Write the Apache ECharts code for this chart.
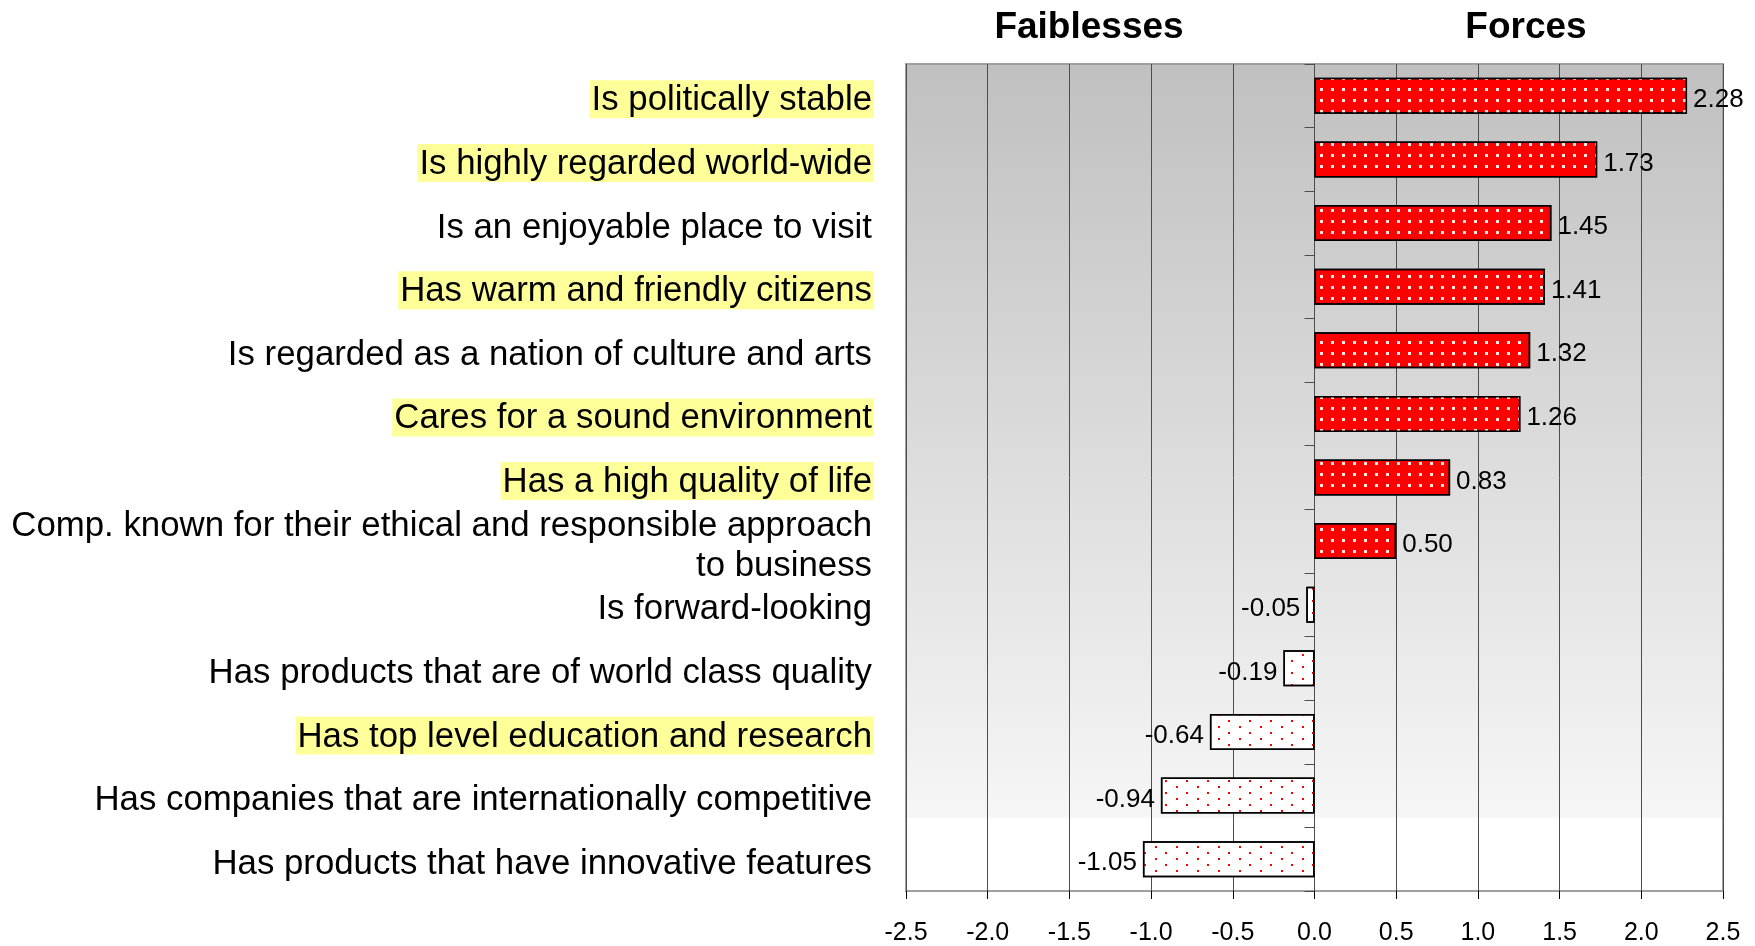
<!DOCTYPE html>
<html>
<head>
<meta charset="utf-8">
<script src="https://cdn.jsdelivr.net/npm/echarts@6/dist/echarts.min.js"></script>
<style>
  html, body { margin: 0; padding: 0; background: #fff; }
  #chart { width: 1755px; height: 946px; }
</style>
</head>
<body>
<div id="chart"></div>
<script>
// 数据
const categories = [
  "Is politically stable",
  "Is highly regarded world-wide",
  "Is an enjoyable place to visit",
  "Has warm and friendly citizens",
  "Is regarded as a nation of culture and arts",
  "Cares for a sound environment",
  "Has a high quality of life",
  "Comp. known for their ethical and responsible approach\nto business",
  "Is forward-looking",
  "Has products that are of world class quality",
  "Has top level education and research",
  "Has companies that are internationally competitive",
  "Has products that have innovative features",
];
const values = [2.28, 1.73, 1.45, 1.41, 1.32, 1.26, 0.83, 0.5, -0.05, -0.19, -0.64, -0.94, -1.05];
// 黄色高亮的标签
const highlighted = [
  "Is politically stable",
  "Is highly regarded world-wide",
  "Has warm and friendly citizens",
  "Cares for a sound environment",
  "Has a high quality of life",
  "Has top level education and research",
];
const xTicks = [-2.5, -2.0, -1.5, -1.0, -0.5, 0.0, 0.5, 1.0, 1.5, 2.0, 2.5];
const titles = ["Faiblesses", "Forces"];

const font = "Liberation Sans, Arial, sans-serif";
const chart = echarts.init(document.getElementById("chart"));

// 正值：红底白点；负值：白底红点
const posStyle = {
  color: "#ff0000",
  borderColor: "#000",
  borderWidth: 1.5,
  decal: {
    symbol: "rect",
    symbolSize: 1,
    color: "rgba(255,240,240,0.95)",
    dashArrayX: [2.5, 7.5],
    dashArrayY: [2.5, 7.5],
  },
};
const negStyle = {
  color: "#ffffff",
  borderColor: "#000",
  borderWidth: 1.5,
  decal: {
    symbol: "rect",
    symbolSize: 1,
    color: "#ff0000",
    dashArrayX: [[2, 19], [0, 10, 2, 9]],
    dashArrayY: [2, 3.5],
  },
};

const barData = values.map((v) => {
  return {
    value: v,
    itemStyle: v >= 0 ? posStyle : negStyle,
    label: { position: v >= 0 ? "right" : "left" },
  };
});

const labelFormatter = (name) => {
  const key = highlighted.indexOf(name) >= 0 ? "hl" : "n";
  return name
    .split("\n")
    .map((line) => "{" + key + "|" + line + "}")
    .join("\n");
};

const option = {
  animation: false,
  title: [
    {
      text: titles[0],
      left: 1084,
      top: 4,
      textAlign: "center",
      textStyle: { fontFamily: font, fontSize: 37, fontWeight: "bold", color: "#000" },
    },
    {
      text: titles[1],
      left: 1521,
      top: 4,
      textAlign: "center",
      textStyle: { fontFamily: font, fontSize: 37, fontWeight: "bold", color: "#000" },
    },
  ],
  grid: {
    left: 906,
    right: 32,
    top: 64,
    bottom: 54,
    show: true,
    borderColor: "#a0a0a0",
    borderWidth: 2,
    backgroundColor: new echarts.graphic.LinearGradient(0, 0, 0, 1, [
      { offset: 0, color: "#c0c0c0" },
      { offset: 0.91, color: "#f6f6f6" },
      { offset: 0.912, color: "#ffffff" },
      { offset: 1, color: "#ffffff" },
    ]),
  },
  xAxis: {
    type: "value",
    min: xTicks[0],
    max: xTicks[xTicks.length - 1],
    interval: 0.5,
    position: "bottom",
    axisLine: { onZero: false, lineStyle: { color: "#000", width: 2 } },
    axisTick: { show: true, length: 8, lineStyle: { color: "#000", width: 1 } },
    axisLabel: {
      margin: 30,
      fontFamily: font,
      fontSize: 25,
      color: "#000",
      formatter: (v) => v.toFixed(1),
    },
    splitLine: { show: true, lineStyle: { color: "#4d4d4d", width: 1 } },
  },
  yAxis: [
    {
      // 左侧的类目标签
      type: "category",
      data: categories,
      inverse: true,
      position: "left",
      axisLine: { show: false, onZero: false },
      axisTick: { show: false },
      axisLabel: {
        interval: 0,
        margin: 32,
        align: "right",
        padding: [7, 0, 0, 0],
        formatter: labelFormatter,
        rich: {
          n: {
            fontFamily: font,
            fontSize: 34.8,
            color: "#000",
            lineHeight: 40,
            padding: [3, 2, 0, 2],
          },
          hl: {
            fontFamily: font,
            fontSize: 34.8,
            color: "#000",
            lineHeight: 40,
            padding: [3, 2, 0, 2],
            backgroundColor: "#ffff99",
          },
        },
      },
    },
    {
      // 零线上的刻度
      type: "category",
      data: categories,
      inverse: true,
      position: "left",
      axisLine: { show: true, onZero: true, lineStyle: { color: "#4d4d4d", width: 1 } },
      axisTick: { show: true, length: 10, lineStyle: { color: "#4d4d4d" } },
      axisLabel: { show: false },
      splitLine: { show: false },
    },
  ],
  series: [
    {
      type: "bar",
      yAxisIndex: 0,
      data: barData,
      barWidth: 36,
      label: {
        show: true,
        distance: 6,
        offset: [0, 4],
        fontFamily: font,
        fontSize: 26,
        color: "#000",
        formatter: (p) => p.value.toFixed(2),
      },
    },
  ],
};
chart.setOption(option);
window.addEventListener("resize", function () {
  chart.resize();
});
</script>
</body>
</html>
